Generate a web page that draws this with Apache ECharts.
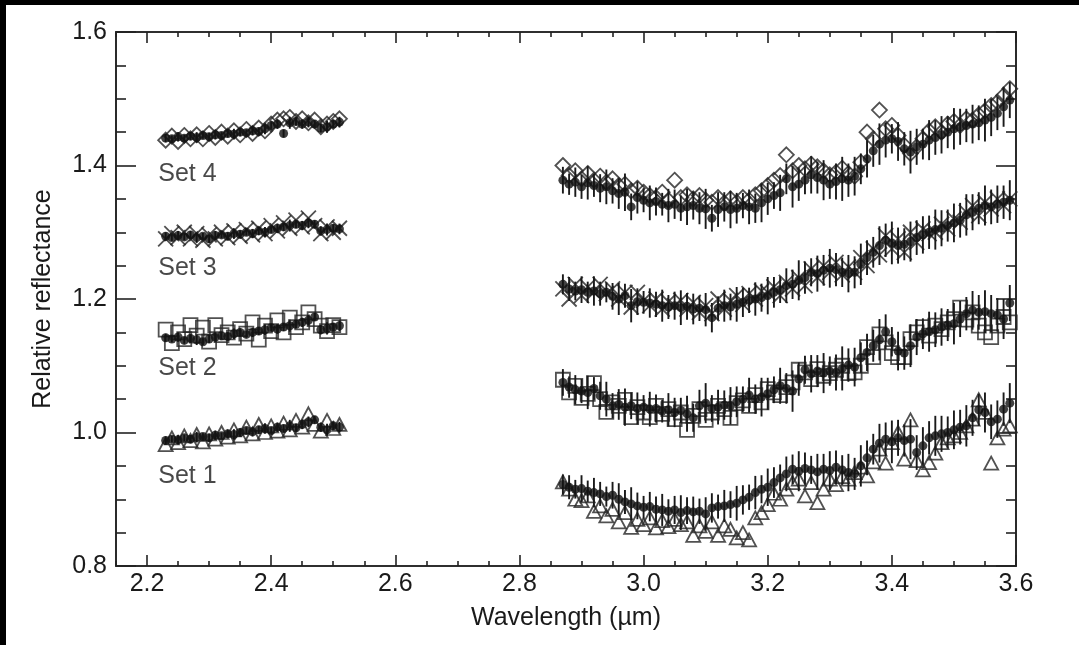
<!DOCTYPE html>
<html><head><meta charset="utf-8">
<script src="https://cdn.jsdelivr.net/npm/echarts@6/dist/echarts.min.js"></script>
<style>html,body{margin:0;padding:0;background:#fff}#c{width:1079px;height:645px}</style>
</head><body><div id="c"></div>
<script>
// ---------- data ----------
const xLeft = [2.23,2.24,2.25,2.26,2.27,2.28,2.29,2.30,2.31,2.32,2.33,2.34,2.35,2.36,2.37,2.38,2.39,2.40,2.41,2.42,2.43,2.44,2.45,2.46,2.47,2.48,2.49,2.50,2.51];
const xRight = [2.87,2.88,2.89,2.90,2.91,2.92,2.93,2.94,2.95,2.96,2.97,2.98,2.99,3.00,3.01,3.02,3.03,3.04,3.05,3.06,3.07,3.08,3.09,3.10,3.11,3.12,3.13,3.14,3.15,3.16,3.17,3.18,3.19,3.20,3.21,3.22,3.23,3.24,3.25,3.26,3.27,3.28,3.29,3.30,3.31,3.32,3.33,3.34,3.35,3.36,3.37,3.38,3.39,3.40,3.41,3.42,3.43,3.44,3.45,3.46,3.47,3.48,3.49,3.50,3.51,3.52,3.53,3.54,3.55,3.56,3.57,3.58,3.59];

// Set 1 (triangles)
const set1DotsLeft = [0.988,0.990,0.989,0.992,0.990,0.993,0.994,0.992,0.996,0.995,0.998,0.997,1.000,1.003,1.001,1.004,1.006,1.003,1.008,1.006,1.010,1.007,1.012,1.016,1.019,1.008,1.004,1.010,1.008];
const set1OpenLeft = [0.982,0.992,0.985,0.995,0.988,0.997,0.986,0.998,0.990,1.000,0.993,1.004,0.995,1.008,0.998,1.012,1.000,1.010,1.002,1.014,1.004,1.018,1.008,1.028,1.012,1.002,1.018,1.006,1.012];
const set1DotsRight = [0.922,0.918,0.915,0.916,0.912,0.910,0.908,0.904,0.906,0.900,0.896,0.893,0.890,0.888,0.889,0.885,0.884,0.882,0.884,0.880,0.883,0.881,0.882,0.878,0.887,0.889,0.890,0.892,0.894,0.899,0.903,0.910,0.915,0.918,0.925,0.932,0.938,0.945,0.942,0.946,0.944,0.941,0.945,0.943,0.948,0.944,0.940,0.938,0.950,0.962,0.975,0.984,0.990,0.986,0.992,0.988,0.990,0.970,0.980,0.992,0.995,0.998,1.000,1.004,1.008,1.010,1.022,1.034,1.030,1.016,1.020,1.035,1.044];
const set1OpenRight = [0.926,0.915,0.900,0.898,0.905,0.882,0.890,0.875,0.885,0.866,0.880,0.858,0.870,0.862,0.872,0.857,0.868,0.859,0.870,0.862,0.866,0.846,0.860,0.852,0.866,0.846,0.860,0.855,0.842,0.850,0.839,0.872,0.880,0.892,0.909,0.900,0.915,0.925,0.930,0.905,0.925,0.895,0.915,0.930,0.922,0.934,0.930,0.940,0.948,0.935,0.956,0.975,0.954,0.985,1.000,0.960,1.019,0.958,0.944,0.955,0.969,0.985,0.992,0.995,1.000,1.010,1.020,1.049,1.030,0.954,0.992,1.005,1.010];

// Set 2 (squares)
const set2DotsLeft = [1.142,1.140,1.143,1.138,1.141,1.139,1.136,1.140,1.143,1.145,1.144,1.148,1.150,1.147,1.150,1.152,1.154,1.157,1.155,1.158,1.160,1.162,1.165,1.168,1.173,1.154,1.156,1.158,1.160];
const set2OpenLeft = [1.154,1.134,1.150,1.140,1.161,1.145,1.157,1.136,1.161,1.146,1.150,1.142,1.155,1.148,1.165,1.139,1.160,1.152,1.168,1.150,1.172,1.158,1.165,1.180,1.170,1.160,1.152,1.161,1.158];
const set2DotsRight = [1.075,1.068,1.064,1.062,1.060,1.066,1.055,1.050,1.040,1.042,1.038,1.040,1.036,1.038,1.035,1.036,1.032,1.034,1.030,1.033,1.028,1.022,1.040,1.044,1.036,1.038,1.041,1.040,1.046,1.050,1.056,1.050,1.053,1.058,1.064,1.070,1.066,1.062,1.080,1.094,1.088,1.092,1.089,1.092,1.090,1.096,1.101,1.098,1.112,1.120,1.130,1.139,1.151,1.136,1.122,1.119,1.130,1.143,1.148,1.151,1.154,1.158,1.161,1.163,1.170,1.178,1.183,1.180,1.181,1.178,1.176,1.170,1.194];
const set2OpenRight = [1.079,1.060,1.070,1.052,1.058,1.074,1.050,1.031,1.045,1.040,1.049,1.023,1.038,1.030,1.023,1.040,1.028,1.035,1.020,1.030,1.004,1.025,1.035,1.019,1.030,1.040,1.035,1.022,1.044,1.048,1.040,1.056,1.045,1.065,1.060,1.056,1.068,1.075,1.094,1.090,1.080,1.095,1.085,1.089,1.094,1.100,1.089,1.090,1.100,1.128,1.113,1.147,1.135,1.119,1.113,1.113,1.140,1.150,1.158,1.145,1.160,1.155,1.165,1.170,1.187,1.169,1.180,1.160,1.150,1.143,1.160,1.173,1.165];

// Set 3 (crosses)
const set3DotsLeft = [1.294,1.292,1.295,1.293,1.296,1.292,1.294,1.290,1.295,1.296,1.294,1.298,1.297,1.300,1.298,1.302,1.300,1.304,1.306,1.308,1.310,1.312,1.310,1.314,1.312,1.302,1.304,1.306,1.305];
const set3OpenLeft = [1.290,1.298,1.292,1.300,1.290,1.298,1.288,1.296,1.290,1.300,1.292,1.302,1.294,1.304,1.296,1.306,1.298,1.310,1.302,1.314,1.306,1.318,1.308,1.321,1.310,1.298,1.308,1.300,1.306];
const set3DotsRight = [1.222,1.215,1.212,1.214,1.210,1.212,1.208,1.210,1.204,1.200,1.205,1.190,1.196,1.195,1.194,1.192,1.190,1.188,1.190,1.187,1.189,1.185,1.186,1.184,1.172,1.186,1.190,1.188,1.192,1.195,1.198,1.200,1.202,1.205,1.210,1.214,1.220,1.222,1.228,1.232,1.240,1.238,1.243,1.246,1.244,1.240,1.238,1.240,1.252,1.262,1.270,1.280,1.288,1.284,1.280,1.282,1.286,1.292,1.296,1.300,1.304,1.306,1.310,1.314,1.318,1.326,1.330,1.336,1.340,1.338,1.342,1.345,1.348];
const set3OpenRight = [1.215,1.200,1.222,1.205,1.218,1.210,1.222,1.208,1.215,1.200,1.210,1.188,1.210,1.198,1.190,1.200,1.185,1.196,1.190,1.198,1.185,1.195,1.180,1.190,1.178,1.200,1.185,1.198,1.205,1.192,1.208,1.200,1.212,1.210,1.218,1.205,1.225,1.215,1.232,1.220,1.245,1.232,1.250,1.240,1.255,1.236,1.248,1.240,1.262,1.250,1.275,1.266,1.295,1.275,1.290,1.270,1.300,1.285,1.305,1.298,1.300,1.312,1.305,1.320,1.315,1.330,1.340,1.325,1.345,1.335,1.350,1.340,1.350];

// Set 4 (diamonds)
const set4DotsLeft = [1.441,1.440,1.443,1.441,1.444,1.442,1.445,1.443,1.446,1.445,1.448,1.447,1.450,1.449,1.452,1.451,1.455,1.460,1.462,1.448,1.464,1.466,1.462,1.465,1.462,1.456,1.458,1.462,1.465];
const set4OpenLeft = [1.438,1.444,1.436,1.445,1.440,1.446,1.440,1.448,1.442,1.450,1.444,1.452,1.446,1.454,1.448,1.456,1.452,1.462,1.468,1.470,1.472,1.466,1.470,1.464,1.468,1.458,1.462,1.466,1.470];
const set4DotsRight = [1.378,1.372,1.375,1.368,1.374,1.370,1.366,1.368,1.362,1.358,1.360,1.338,1.352,1.348,1.344,1.346,1.342,1.340,1.342,1.336,1.338,1.340,1.336,1.335,1.321,1.334,1.338,1.334,1.336,1.340,1.338,1.336,1.344,1.350,1.355,1.359,1.380,1.368,1.372,1.378,1.386,1.382,1.378,1.372,1.376,1.380,1.378,1.384,1.395,1.410,1.422,1.432,1.438,1.440,1.436,1.425,1.420,1.428,1.432,1.438,1.442,1.446,1.450,1.455,1.458,1.460,1.462,1.464,1.468,1.472,1.478,1.488,1.498];
const set4OpenRight = [1.400,1.385,1.392,1.380,1.388,1.378,1.384,1.375,1.380,1.370,1.372,1.362,1.366,1.360,1.355,1.352,1.360,1.348,1.378,1.352,1.356,1.350,1.355,1.348,1.345,1.352,1.344,1.350,1.345,1.352,1.348,1.356,1.362,1.370,1.378,1.385,1.416,1.392,1.400,1.395,1.402,1.398,1.392,1.386,1.390,1.396,1.388,1.384,1.405,1.450,1.440,1.483,1.455,1.460,1.445,1.430,1.418,1.428,1.440,1.452,1.458,1.450,1.462,1.466,1.460,1.470,1.468,1.476,1.482,1.490,1.495,1.505,1.515];

// error bar half-lengths
const errLeft = [0.006,0.005,0.007,0.005,0.006,0.008,0.005,0.006,0.007,0.005,0.006,0.008,0.006,0.005,0.007,0.006,0.008,0.005,0.007,0.006,0.009,0.006,0.007,0.008,0.006,0.007,0.009,0.006,0.008];
const errRightA = [0.015,0.018,0.014,0.020,0.016,0.022,0.018,0.015,0.020,0.024,0.018,0.025,0.020,0.017,0.022,0.019,0.024,0.018,0.021,0.026,0.020,0.023,0.019,0.025,0.022,0.018,0.024,0.020,0.026,0.022,0.019,0.025,0.021,0.028,0.023,0.020,0.026,0.022,0.030,0.024,0.021,0.027,0.023,0.029,0.025,0.022,0.028,0.024,0.031,0.026,0.023,0.029,0.025,0.032,0.027,0.024,0.030,0.026,0.028,0.025,0.030,0.027,0.024,0.029,0.026,0.031,0.027,0.024,0.030,0.026,0.028,0.025,0.030];
const errRightB = [0.020,0.016,0.022,0.018,0.025,0.017,0.021,0.026,0.019,0.023,0.028,0.020,0.024,0.018,0.026,0.021,0.017,0.025,0.022,0.019,0.027,0.021,0.024,0.030,0.020,0.026,0.022,0.028,0.023,0.019,0.026,0.022,0.029,0.024,0.020,0.027,0.023,0.031,0.025,0.021,0.028,0.024,0.030,0.022,0.027,0.033,0.025,0.029,0.023,0.028,0.024,0.031,0.026,0.022,0.029,0.025,0.032,0.027,0.023,0.030,0.026,0.028,0.024,0.031,0.027,0.025,0.029,0.026,0.032,0.028,0.025,0.030,0.027];

// labels / ticks
const setNames = ['Set 1','Set 2','Set 3','Set 4'];
const setLabelX = [2.218,2.218,2.218,2.218];
const setLabelY = [0.935,1.097,1.246,1.387];
const xMajorTicks = [2.2,2.4,2.6,2.8,3.0,3.2,3.4,3.6];
const xTickLabels = ['2.2','2.4','2.6','2.8','3.0','3.2','3.4','3.6'];
const xMinorTicks = [2.15,2.25,2.3,2.35,2.45,2.5,2.55,2.65,2.7,2.75,2.85,2.9,2.95,3.05,3.1,3.15,3.25,3.3,3.35,3.45,3.5,3.55];
const yMajorTicks = [0.8,1.0,1.2,1.4,1.6];
const yTickLabels = ['0.8','1.0','1.2','1.4','1.6'];
const yMinorTicks = [0.85,0.9,0.95,1.05,1.1,1.15,1.25,1.3,1.35,1.45,1.5,1.55];
const xTitle = 'Wavelength (µm)';
const yTitle = 'Relative reflectance';

// ---------- build ----------
const FONT = 'Liberation Sans, Arial, Helvetica, sans-serif';
const INK = '#1a1a1a';
const FS = 25;
const sets = [
  {dl:set1DotsLeft, ol:set1OpenLeft, dr:set1DotsRight, or:set1OpenRight, er:errRightA, symbol:'triangle', size:[14,13]},
  {dl:set2DotsLeft, ol:set2OpenLeft, dr:set2DotsRight, or:set2OpenRight, er:errRightB, symbol:'rect', size:[14,14]},
  {dl:set3DotsLeft, ol:set3OpenLeft, dr:set3DotsRight, or:set3OpenRight, er:errRightA, symbol:'path://M0,0L10,10M10,0L0,10', size:[15,15]},
  {dl:set4DotsLeft, ol:set4OpenLeft, dr:set4DotsRight, or:set4OpenRight, er:errRightB, symbol:'diamond', size:[15,15]}
];
const pairs = (xs, ys) => xs.map((x,i)=>[x, ys[i]]);
const series = [];
sets.forEach((s, k) => {
  series.push({
    type:'scatter', name:setNames[k]+' open', symbol:s.symbol, symbolSize:s.size,
    itemStyle:{color:'rgba(0,0,0,0)', borderColor:'#262626', borderWidth:1.8},
    data: pairs(xLeft, s.ol).concat(pairs(xRight, s.or)), z:2, silent:true
  });
  const ed = xLeft.map((x,i)=>[x, s.dl[i], errLeft[i]||0]).concat(xRight.map((x,i)=>[x, s.dr[i], s.er[i]||0]));
  series.push({
    type:'custom', name:setNames[k]+' err', data: ed, encode:{x:0,y:1}, z:3, silent:true,
    renderItem:(params, api)=>{
      const x = api.value(0), y = api.value(1), e = api.value(2);
      const p1 = api.coord([x, y-e]), p2 = api.coord([x, y+e]);
      return {type:'line', shape:{x1:p1[0], y1:p1[1], x2:p2[0], y2:p2[1]}, style:{stroke:'#1a1a1a', lineWidth:1.9}};
    }
  });
  series.push({
    type:'scatter', name:setNames[k]+' dots', symbol:'circle', symbolSize:9,
    itemStyle:{color:'#111'}, data: pairs(xLeft, s.dl).concat(pairs(xRight, s.dr)), z:4, silent:true
  });
});
series.push({
  type:'scatter', symbolSize:0, silent:true, z:5,
  data: setNames.map((n,i)=>({name:n, value:[setLabelX[i], setLabelY[i]]})),
  label:{show:true, position:'right', distance:0, formatter:p=>p.name, color:INK, fontSize:FS, fontFamily:FONT, align:'left', verticalAlign:'middle'}
});

const lineStyle = {color:'#222', width:1.6};
const lbl = (vals, labels) => (v => { const i = vals.findIndex(t=>Math.abs(t-v)<1e-6); return i>=0 ? labels[i] : ''; });
const mkX = (pos, major, showLabel) => ({
  type:'value', min:2.15, max:3.6, position:pos, gridIndex:0,
  axisLine:{show:true, onZero:false, lineStyle},
  axisTick:{show:true, inside:true, length: major?11:5, customValues: major?xMajorTicks:xMinorTicks, lineStyle},
  axisLabel:{show:showLabel, customValues:xMajorTicks, formatter:lbl(xMajorTicks,xTickLabels), color:INK, fontSize:FS, fontFamily:FONT, margin:6},
  splitLine:{show:false}
});
const mkY = (pos, major, showLabel) => ({
  type:'value', min:0.8, max:1.6, position:pos, gridIndex:0,
  axisLine:{show:true, onZero:false, lineStyle},
  axisTick:{show:true, inside:true, length: major?20:10, customValues: major?yMajorTicks:yMinorTicks, lineStyle},
  axisLabel:{show:showLabel, customValues:yMajorTicks, formatter:lbl(yMajorTicks,yTickLabels), color:INK, fontSize:FS, fontFamily:FONT, margin:9},
  splitLine:{show:false}
});
const x0 = mkX('bottom', true, true);
x0.name = xTitle; x0.nameLocation = 'middle'; x0.nameGap = 40;
x0.nameTextStyle = {color:INK, fontSize:FS, fontFamily:FONT};
const y0 = mkY('left', true, true);
y0.name = yTitle; y0.nameLocation = 'middle'; y0.nameGap = 60;
y0.nameTextStyle = {color:INK, fontSize:FS, fontFamily:FONT};

const chart = echarts.init(document.getElementById('c'), null, {renderer:'canvas'});
chart.setOption({
  animation:false,
  backgroundColor:'#fff',
  grid:{left:116, right:63, top:32, bottom:79},
  xAxis:[x0, mkX('bottom', false, false), mkX('top', true, false), mkX('top', false, false)],
  yAxis:[y0, mkY('left', false, false), mkY('right', true, false), mkY('right', false, false)],
  series: series,
  graphic:[
    {type:'rect', left:0, top:0, shape:{width:1079, height:5}, style:{fill:'#000'}, z:100},
    {type:'rect', left:0, top:0, shape:{width:6, height:645}, style:{fill:'#000'}, z:100}
  ]
});
</script></body></html>
